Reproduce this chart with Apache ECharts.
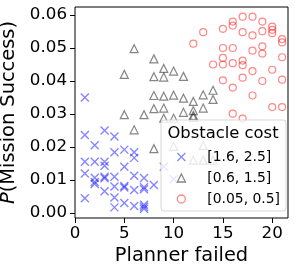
<!DOCTYPE html>
<html>
<head>
<meta charset="utf-8">
<script src="https://cdn.jsdelivr.net/npm/echarts@6/dist/echarts.min.js"></script>
<style>
html,body{margin:0;padding:0;background:#fff;}
#c{width:299px;height:272px;}
</style>
</head>
<body>
<div id="c"></div>
<script>
// Series names (legend)
const seriesNames = ['[1.6, 2.5]', '[0.6, 1.5]', '[0.05, 0.5]'];
const legendTitle = 'Obstacle cost';

// Blue crosses: obstacle cost [1.6, 2.5]
const blueX = [1,1,1,1,1, 2,2,2,2,2, 3,3,3,3,3,3, 4,4,4,4,4,4, 5,5,5,5,5, 6,6,6,6,6, 7,7,7,7,7,7, 8, 9, 10];
const blueY = [0.035,0.0236,0.0155,0.012,0.0045, 0.0205,0.0155,0.0107,0.0094,0.0088, 0.025,0.0155,0.0143,0.011,0.0105,0.0066, 0.0232,0.0184,0.011,0.008,0.0047,0.0017, 0.0192,0.014,0.0082,0.0077,0.003, 0.0184,0.0167,0.0113,0.007,0.0021, 0.0106,0.0078,0.0072,0.0025,0.0019,0.0013, 0.0085, 0.014, 0.0102];

// Gray triangles: obstacle cost [0.6, 1.5]
const grayX = [5,5, 6,6, 7, 8,8,8,8,8, 9,9,9,9,9, 10,10,10,10, 11,11,11, 12,12,12,12,12, 13,13,13,13, 14,14,14];
const grayY = [0.042,0.0298, 0.0498,0.0252, 0.0298, 0.0467,0.0413,0.0356,0.0316,0.0195, 0.0438,0.0412,0.0354,0.0318,0.0287, 0.043,0.0357,0.0287,0.0202, 0.0414,0.0348,0.0305, 0.0338,0.031,0.0296,0.029,0.016, 0.0358,0.0318,0.0205,0.016, 0.0372,0.0344,0.016];

// Red circles: obstacle cost [0.05, 0.5]
const redX = [12, 13, 14, 15,15,15,15,15, 16,16,16,16,16,16, 17,17,17,17,17,17, 18,18,18,18,18, 19,19,19,19,19, 20,20,20,20,20, 21,21,21,21,21];
const redY = [0.0513, 0.0548, 0.045, 0.0558,0.050,0.047,0.045,0.0402, 0.058,0.0568,0.050,0.0454,0.038,0.0301, 0.0595,0.0548,0.0462,0.0448,0.041,0.0286, 0.0595,0.0538,0.0492,0.043,0.0356, 0.058,0.0551,0.0505,0.0483,0.040, 0.0565,0.0555,0.0545,0.0434,0.0321, 0.0527,0.0517,0.0472,0.0404,0.0321];

// Tick values
const xTicks = [0, 5, 10, 15, 20];
const yTicks = [0.00, 0.01, 0.02, 0.03, 0.04, 0.05, 0.06];

function zip(xs, ys){ return xs.map((x,i)=>[x, ys[i]]); }

const FONT = 'DejaVu Sans';
const chart = echarts.init(document.getElementById('c'), null, {renderer:'canvas'});
const option = {
  animation: false,
  backgroundColor: '#fff',
  grid: {
    left: 75, right: 11, top: 7, bottom: 54,
    show: true, borderColor: '#000', borderWidth: 1, backgroundColor: 'transparent',
    containLabel: false, outerBoundsMode: 'none'
  },
  title: {
    text: legendTitle, left: 223, top: 126, textAlign: 'center', padding: 0, z: 10,
    textStyle: {fontSize: 16.4, fontWeight: 'normal', fontFamily: FONT, color: '#000'}
  },
  legend: {
    data: seriesNames,
    orient: 'vertical',
    left: 161, top: 120,
    padding: [28.5, 6, 3.5, 15.7],
    itemWidth: 8, itemHeight: 8, itemGap: 4,
    backgroundColor: 'rgba(255,255,255,0.8)',
    borderColor: 'rgba(204,204,204,0.8)', borderWidth: 1, borderRadius: 3,
    itemStyle: {borderWidth: 1.3},
    textStyle: {fontSize: 13.9, fontFamily: FONT, color: '#000', lineHeight: 17, padding: [0,0,0,17]},
    selectedMode: false
  },
  xAxis: {
    type: 'value', min: 0, max: 21.6,
    splitLine: {show: false},
    axisLine: {show: false, onZero: false},
    axisTick: {show: true, length: 5, customValues: xTicks, lineStyle: {color: '#000', width: 1}},
    axisLabel: {customValues: xTicks, margin: 7, fontSize: 16.7, fontFamily: FONT, color: '#000'},
    name: 'Planner failed', nameLocation: 'middle', nameGap: 24,
    nameTextStyle: {fontSize: 19.4, fontFamily: FONT, color: '#000'}
  },
  yAxis: {
    type: 'value', min: -0.00152, max: 0.06242,
    splitLine: {show: false},
    axisLine: {show: false, onZero: false},
    axisTick: {show: true, length: 5, customValues: yTicks, lineStyle: {color: '#000', width: 1}},
    axisLabel: {customValues: yTicks, margin: 8, fontSize: 16.7, fontFamily: FONT, color: '#000',
      formatter: v => v.toFixed(2)},
    name: '{it|P}(Mission Success)', nameLocation: 'middle', nameGap: 48, nameRotate: 90,
    nameTextStyle: {fontSize: 19.4, fontFamily: FONT, color: '#000',
      rich: {it: {fontStyle: 'italic', fontSize: 19.4, fontFamily: FONT, color: '#000'}}}
  },
  series: [
    {
      name: seriesNames[0], type: 'scatter', data: zip(blueX, blueY),
      symbol: 'path://M0,0L10,10M10,0L0,10', symbolSize: 8,
      itemStyle: {color: 'rgba(0,0,0,0)', borderColor: 'rgba(0,0,255,0.6)', borderWidth: 1.4}
    },
    {
      name: seriesNames[1], type: 'scatter', data: zip(grayX, grayY),
      symbol: 'triangle', symbolSize: 8,
      itemStyle: {color: 'rgba(0,0,0,0)', borderColor: 'rgba(0,0,0,0.6)', borderWidth: 1.2}
    },
    {
      name: seriesNames[2], type: 'scatter', data: zip(redX, redY),
      symbol: 'circle', symbolSize: 7,
      itemStyle: {color: 'rgba(0,0,0,0)', borderColor: 'rgba(255,0,0,0.6)', borderWidth: 1.2}
    }
  ]
};
chart.setOption(option);
</script>
</body>
</html>
